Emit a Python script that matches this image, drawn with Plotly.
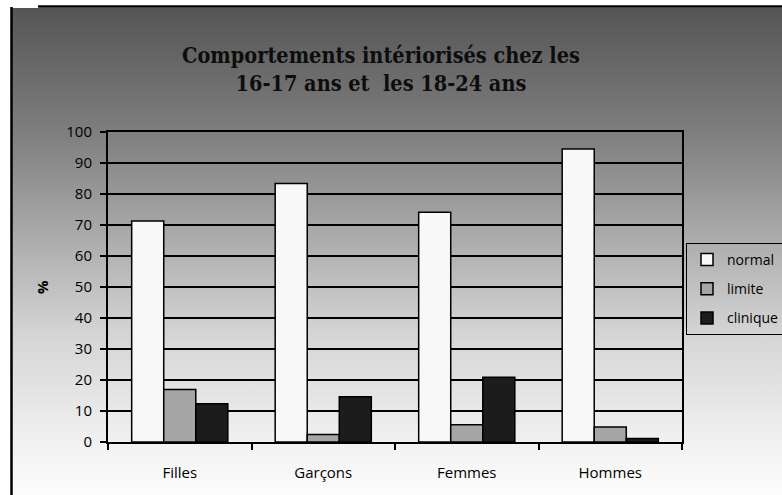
import base64
import plotly.graph_objects as go

categories = ["Filles", "Garçons", "Femmes", "Hommes"]
normal = [71.3, 83.4, 74.1, 94.5]
limite = [16.9, 2.4, 5.6, 4.8]
clinique = [12.3, 14.6, 20.9, 1.1]
series_names = ["normal", "limite", "clinique"]
y_ticks = list(range(0, 101, 10))

W, H = 782, 495
L, R, T, B = 108, 100, 132, 53
PW, PH = W - L - R, H - T - B

def px_x(x):
    return (x - L) / PW

def px_y(y):
    return (H - B - y) / PH

svg = ('<svg xmlns="http://www.w3.org/2000/svg" width="100" height="100" viewBox="0 0 100 100" '
       'preserveAspectRatio="none"><defs><linearGradient id="g" x1="0" y1="0" x2="0" y2="1">'
       '<stop offset="0" stop-color="#555555"/>'
       '<stop offset="0.255" stop-color="#808080"/>'
       '<stop offset="0.64" stop-color="#d4d4d4"/>'
       '<stop offset="0.887" stop-color="#f5f5f5"/>'
       '<stop offset="1" stop-color="#ffffff"/>'
       '</linearGradient></defs><rect width="100" height="100" fill="url(#g)"/></svg>')
src = "data:image/svg+xml;base64," + base64.b64encode(svg.encode()).decode()

fills = ["#f8f8f8", "#a6a6a6", "#1c1c1c"]
fig = go.Figure()
for i, (name, vals) in enumerate(zip(series_names, [normal, limite, clinique])):
    fig.add_trace(go.Bar(
        x=categories, y=vals, name=name, legendgroup=name,
        marker=dict(color=fills[i], line=dict(color="black", width=1.5)),
    ))

fig.update_layout(
    width=W, height=H,
    margin=dict(l=L, r=R, t=T, b=B, autoexpand=False),
    paper_bgcolor="white",
    plot_bgcolor="rgba(0,0,0,0)",
    barmode="group", bargap=0.33, bargroupgap=0,
    font=dict(family="Open Sans", color="black", size=15),
    showlegend=True,
    legend=dict(
        x=px_x(686), y=px_y(243), xanchor="left", yanchor="top",
        bordercolor="black", borderwidth=1, bgcolor="rgba(0,0,0,0)",
        font=dict(size=14, family="Open Sans"), tracegroupgap=8, itemwidth=30,
    ),
    images=[dict(
        source=src, xref="paper", yref="paper",
        x=px_x(12), y=px_y(8), sizex=(W + 20 - 12) / PW, sizey=(H + 20 - 8) / PH,
        xanchor="left", yanchor="top", sizing="stretch", layer="below",
    )],
    shapes=[
        dict(type="line", xref="paper", yref="paper", x0=px_x(38), x1=px_x(W + 10),
             y0=px_y(6.5), y1=px_y(6.5), line=dict(color="black", width=2.5)),
        dict(type="line", xref="paper", yref="paper", x0=px_x(11.5), x1=px_x(11.5),
             y0=px_y(H + 10), y1=px_y(7), line=dict(color="black", width=2.5)),
    ],
    annotations=[
        dict(text="<b>Comportements intériorisés chez les<br>16-17 ans et&nbsp; les 18-24 ans</b>",
             xref="paper", yref="paper", x=px_x(381), y=px_y(69),
             xanchor="center", yanchor="middle", showarrow=False,
             font=dict(family="DejaVu Serif Condensed", size=21.5, color="#0d0d0d"),
             ),
        dict(text="<b>%</b>", xref="paper", yref="paper", x=px_x(42), y=px_y(287),
             xanchor="center", yanchor="middle", showarrow=False, textangle=-90,
             font=dict(family="Open Sans", size=15, color="black")),
    ],
)

fig.update_yaxes(
    range=[0, 100], tickvals=y_ticks, ticktext=[str(v) for v in y_ticks],
    showline=True, linecolor="black", linewidth=2, mirror=True,
    ticks="outside", ticklen=6, tickwidth=1.5, tickcolor="black",
    showgrid=True, gridcolor="black", gridwidth=1.6, zeroline=False,
    tickfont=dict(size=15, family="Open Sans"), ticklabelstandoff=5,
)
fig.update_xaxes(
    showline=True, linecolor="black", linewidth=2, mirror=True,
    ticks="outside", ticklen=6, tickwidth=1.5, tickcolor="black", tickson="boundaries",
    showgrid=False, tickfont=dict(size=15, family="Open Sans"), ticklabelstandoff=16,
)

fig.write_html("out.html", config={"displayModeBar": False},
               post_script="document.body.style.margin='0';document.body.style.padding='0';")
